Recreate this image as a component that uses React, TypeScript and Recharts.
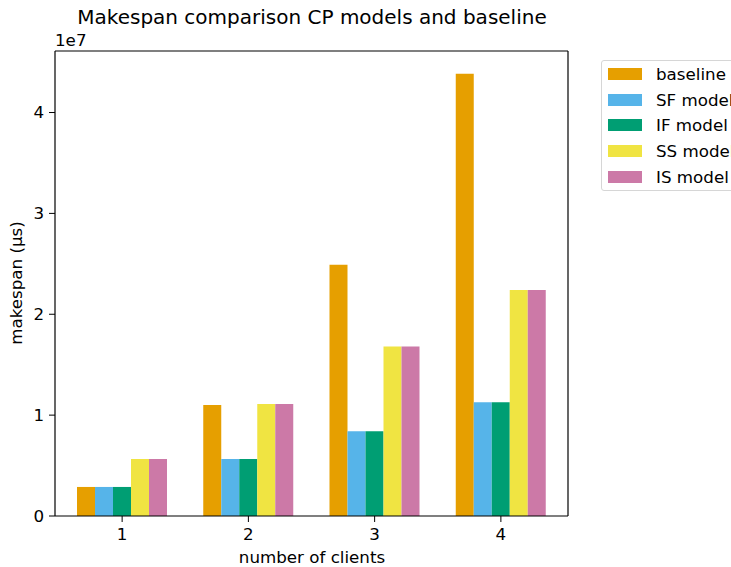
import { BarChart, Bar, XAxis, YAxis } from 'recharts'

const CLIENTS = ['1', '2', '3', '4']

const BASELINE = [2.88e6, 1.1e7, 2.49e7, 4.385e7]
const SF_MODEL = [2.88e6, 5.65e6, 8.4e6, 1.128e7]
const IF_MODEL = [2.88e6, 5.65e6, 8.4e6, 1.128e7]
const SS_MODEL = [5.65e6, 1.11e7, 1.68e7, 2.24e7]
const IS_MODEL = [5.65e6, 1.11e7, 1.68e7, 2.24e7]

const Y_TICKS = [0, 1e7, 2e7, 3e7, 4e7]

const SERIES = [
  { key: 'baseline', name: 'baseline', color: '#E69F00', values: BASELINE },
  { key: 'sf', name: 'SF model', color: '#56B4E9', values: SF_MODEL },
  { key: 'if', name: 'IF model', color: '#009E73', values: IF_MODEL },
  { key: 'ss', name: 'SS model', color: '#F0E442', values: SS_MODEL },
  { key: 'is', name: 'IS model', color: '#CC79A7', values: IS_MODEL },
]

const data = CLIENTS.map((c, i) => {
  const row: Record<string, string | number> = { clients: c }
  SERIES.forEach(s => {
    row[s.key] = s.values[i]
  })
  return row
})

const FONT = '"DejaVu Sans", sans-serif'
const Y_MAX = 4.61e7
const SPINE = { stroke: '#000', strokeWidth: 1.2 }

export default function App() {
  const tick = { fill: '#000', fontSize: 16.7, fontFamily: FONT }

  return (
    <div style={{ position: 'absolute', left: 0, top: 0, width: 731, height: 567, background: '#fff' }}>
      <BarChart
        width={731}
        height={567}
        data={data}
        margin={{ top: 50, right: 162, bottom: 21, left: 5 }}
        barGap={0}
        barSize={18}
      >
        <XAxis
          dataKey="clients"
          height={30}
          padding={{ left: 4, right: 4 }}
          axisLine={SPINE}
          tickLine={{ stroke: '#000' }}
          tickSize={6}
          tickMargin={6}
          tick={tick}
        />
        <XAxis
          xAxisId="top"
          dataKey="clients"
          orientation="top"
          height={1}
          tick={false}
          tickLine={false}
          axisLine={SPINE}
        />
        <YAxis
          width={50}
          domain={[0, Y_MAX]}
          ticks={Y_TICKS}
          allowDataOverflow
          axisLine={SPINE}
          tickLine={{ stroke: '#000' }}
          tickSize={6}
          tickMargin={5}
          tick={tick}
          tickFormatter={(v: number) => String(Math.round(v / 1e7))}
        />
        <YAxis
          yAxisId="right"
          orientation="right"
          width={1}
          domain={[0, Y_MAX]}
          tick={false}
          tickLine={false}
          axisLine={SPINE}
        />
        {SERIES.map(s => (
          <Bar key={s.key} dataKey={s.key} name={s.name} fill={s.color} isAnimationActive={false} />
        ))}
      </BarChart>

      <svg
        width={731}
        height={567}
        style={{ position: 'absolute', left: 0, top: 0, pointerEvents: 'none' }}
        fontFamily={FONT}
      >
        <text x={312} y={24} textAnchor="middle" fontSize={20} fill="#000">
          Makespan comparison CP models and baseline
        </text>
        <text x={55} y={46} fontSize={16.7} fill="#000">1e7</text>
        <text x={22} y={283} textAnchor="middle" fontSize={16.7} fill="#000" transform="rotate(-90 22 283)">
          makespan (µs)
        </text>
        <text x={312} y={563} textAnchor="middle" fontSize={16.7} fill="#000">number of clients</text>
      </svg>

      <div
        style={{
          position: 'absolute',
          left: 601,
          top: 60,
          width: 150,
          height: 129,
          border: '1px solid #d6d6d6',
          borderRadius: 3,
          background: '#fff',
          fontFamily: FONT,
          fontSize: 16.7,
          color: '#000',
        }}
      >
        {SERIES.map((s, i) => (
          <div
            key={s.key}
            style={{ position: 'absolute', left: 6, top: 4 + i * 25.7, height: 18, display: 'flex', alignItems: 'center', whiteSpace: 'nowrap' }}
          >
            <span style={{ display: 'inline-block', width: 34, height: 12, background: s.color, marginRight: 14 }} />
            <span>{s.name}</span>
          </div>
        ))}
      </div>
    </div>
  )
}
